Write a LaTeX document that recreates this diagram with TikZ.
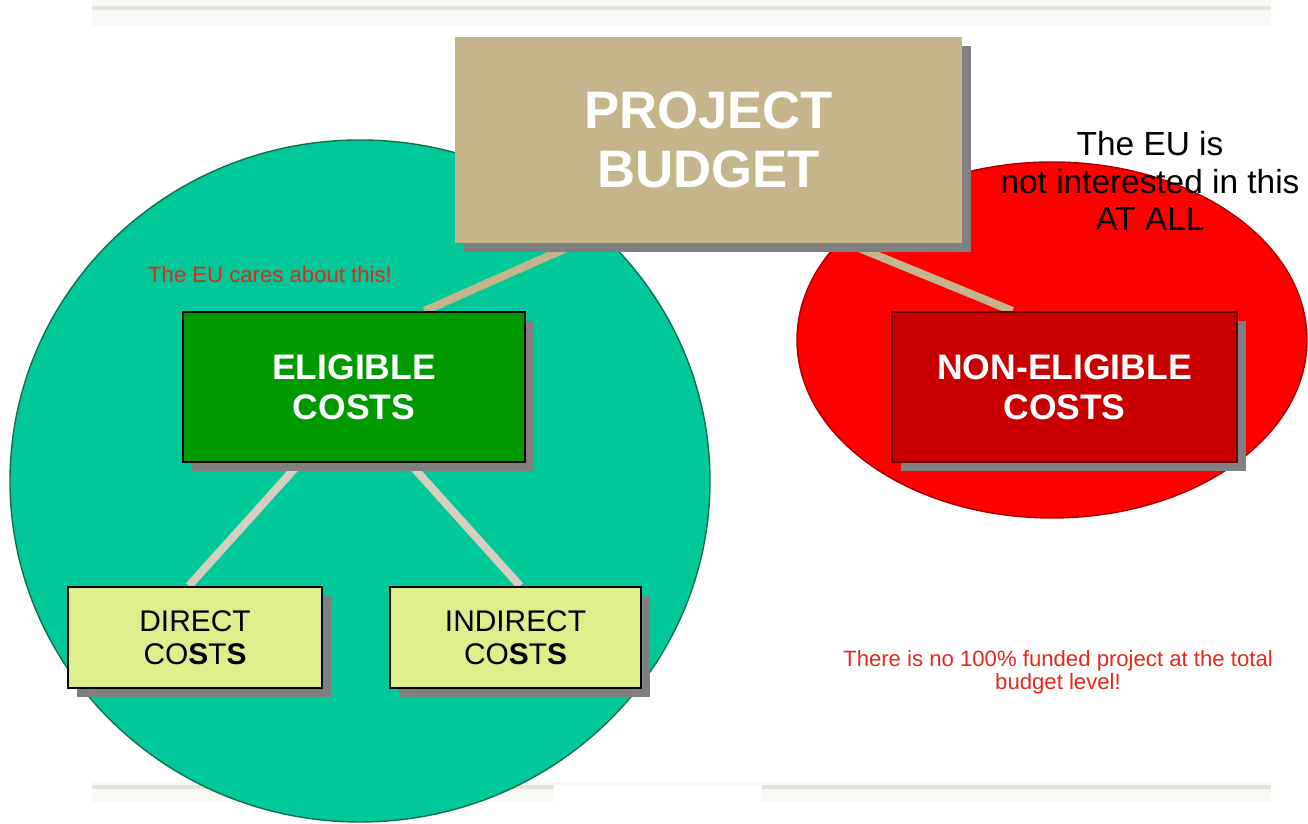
\documentclass[tikz,border=0pt]{standalone}
\usepackage{fontspec}
\setmainfont{Liberation Sans}
\usetikzlibrary{calc,shadows,backgrounds}
\definecolor{circlegreen}{RGB}{0,200,152}
\definecolor{greenrim}{RGB}{20,110,80}
\definecolor{circlered}{RGB}{255,0,0}
\definecolor{redrim}{RGB}{170,0,0}
\definecolor{budgettan}{RGB}{196,181,140}
\definecolor{eligiblegreen}{RGB}{0,153,0}
\definecolor{nonred}{RGB}{200,0,0}
\definecolor{costyellow}{RGB}{222,238,140}
\definecolor{shadowgray}{RGB}{128,128,128}
\definecolor{linkgray}{RGB}{214,206,192}
\definecolor{notered}{RGB}{228,40,30}
\definecolor{rulegray}{RGB}{226,226,216}
\begin{document}
\begin{tikzpicture}[
  boxshadow/.style={drop shadow={fill=shadowgray, opacity=1, shadow xshift=0.09cm, shadow yshift=-0.09cm}},
  budgetbox/.style={fill=budgettan, boxshadow, text=white, inner sep=0pt, align=center,
    font=\fontsize{15}{17}\selectfont\bfseries},
  costbox/.style={draw=black, line width=0.6pt, boxshadow, inner sep=0pt, align=center},
  mainbox/.style={costbox, text=white, font=\fontsize{10.1}{11.3}\selectfont\bfseries},
  subbox/.style={costbox, fill=costyellow, font=\fontsize{8.5}{9.3}\selectfont},
  link/.style={line width=0.08cm},
  note/.style={align=center, inner sep=0pt}
]
\useasboundingbox (0,0) rectangle (13.08,8.24);
% boxes
\node[budgetbox, minimum width=5.07cm, minimum height=2.06cm] (budget) at (7.085,6.84) {PROJECT\\BUDGET};
\node[mainbox, fill=eligiblegreen, minimum width=3.42cm, minimum height=1.50cm] (eligible) at (3.54,4.37) {ELIGIBLE\\COSTS};
\node[mainbox, fill=nonred, draw=redrim!60!black, minimum width=3.45cm, minimum height=1.50cm] (noneligible) at (10.645,4.37) {NON-ELIGIBLE\\COSTS};
\node[subbox, minimum width=2.54cm, minimum height=1.01cm] (direct) at (1.95,1.865) {DIRECT\\CO\textbf{S}T\textbf{S}};
\node[subbox, minimum width=2.51cm, minimum height=1.01cm] (indirect) at (5.155,1.865) {INDIRECT\\CO\textbf{S}T\textbf{S}};
% notes
\node[note, text=notered, font=\fontsize{6.3}{6.6}\selectfont] (cares) at (2.70,5.49) {The EU cares about this!};
\node[note, font=\fontsize{9.5}{10.7}\selectfont] (notint) at (11.50,6.43) {The EU is\\not interested in this\\AT ALL};
\node[note, text=notered, font=\fontsize{6.3}{6.6}\selectfont] (nofund) at (10.58,1.52) {There is no 100\% funded project at the total\\budget level!};
\begin{scope}[on background layer]
% rules top and bottom
\fill[rulegray!25] (0.92,8.24) rectangle (12.71,7.98);
\fill[rulegray] (0.92,8.18) rectangle (12.71,8.14);
\fill[rulegray!25] (0.92,0.42) rectangle (12.71,0.22);
\fill[rulegray] (0.92,0.39) rectangle (12.71,0.35);
\fill[white] (5.54,0) rectangle (7.62,0.39);
% circles
\filldraw[fill=circlegreen, draw=greenrim, line width=0.4pt] (3.60,3.43) ellipse [x radius=3.50, y radius=3.41];
\filldraw[fill=circlered, draw=redrim, line width=0.4pt] (10.52,4.84) ellipse [x radius=2.55, y radius=1.78];
% links
\draw[link, budgettan] ($(budget.south west)!0.24!(budget.south east)$) -- ($(eligible.north west)!0.705!(eligible.north east)$);
\draw[link, budgettan] ($(budget.south west)!0.775!(budget.south east)$) -- ($(noneligible.north west)!0.35!(noneligible.north east)$);
\draw[link, linkgray] ($(eligible.south west)!0.342!(eligible.south east)$) -- ($(direct.north west)!0.476!(direct.north east)$);
\draw[link, linkgray] ($(eligible.south west)!0.661!(eligible.south east)$) -- ($(indirect.north west)!0.518!(indirect.north east)$);
\end{scope}
\end{tikzpicture}
\end{document}
